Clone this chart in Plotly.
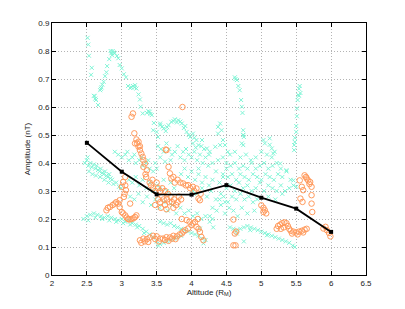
import plotly.graph_objects as go

# ---- black mean line ----
mean_x = [2.5, 3.0, 3.5, 4.0, 4.5, 5.0, 5.5, 6.0]
mean_y = [0.472, 0.369, 0.288, 0.287, 0.321, 0.276, 0.237, 0.154]

# ---- cyan (x markers) tracks ----
cyan_upper = [
    (2.51,0.847),(2.52,0.823),(2.53,0.783),(2.57,0.740),(2.56,0.715),(2.61,0.639),(2.63,0.625),
    (2.66,0.607),(2.69,0.660),(2.71,0.670),(2.74,0.690),(2.76,0.710),(2.78,0.724),(2.79,0.746),
    (2.82,0.771),(2.85,0.792),(2.87,0.800),(2.90,0.792),(2.93,0.782),(2.95,0.774),(2.97,0.750),
    (3.00,0.738),(3.03,0.717),(3.06,0.706),(3.09,0.675),(3.14,0.670),(3.19,0.678),(3.21,0.666),
    (3.24,0.645),(3.26,0.627),(3.27,0.601),(3.30,0.577),(3.36,0.579),(3.40,0.583),(3.43,0.571),
    (3.46,0.543),(3.50,0.511),(3.52,0.493),(2.84,0.800),(2.88,0.795),(2.86,0.785),(3.18,0.670),
    (3.16,0.675),(3.12,0.668),(3.38,0.585),(3.41,0.575),(2.60,0.640),(2.62,0.630),(2.72,0.680),
    (2.70,0.665),(3.45,0.517),(3.55,0.535),
]
cyan_branch = [
    (3.55,0.541),(3.60,0.523),(3.63,0.514),(3.67,0.535),(3.71,0.547),(3.76,0.556),(3.81,0.553),
    (3.86,0.541),(3.91,0.532),(3.93,0.511),(3.98,0.493),(4.02,0.505),(4.07,0.482),(4.10,0.464),
    (3.58,0.530),(3.65,0.528),(3.74,0.550),(3.79,0.545),(3.84,0.548),(3.89,0.525),(3.96,0.500),
    (4.04,0.490),
]
cyan_spikes = [
    (4.15,0.482),(4.22,0.452),(4.26,0.440),(4.34,0.458),(4.41,0.464),(4.41,0.541),(4.38,0.529),
    (4.43,0.517),(4.38,0.505),(4.45,0.482),(4.48,0.464),(4.52,0.440),(4.62,0.706),(4.63,0.700),
    (4.65,0.696),(4.67,0.675),(4.69,0.660),(4.71,0.625),(4.72,0.601),(4.73,0.579),(4.74,0.517),
    (4.75,0.493),(4.74,0.464),(5.03,0.482),(5.12,0.488),(5.05,0.470),(5.12,0.465),(5.15,0.452),
    (5.19,0.440),(5.55,0.675),(5.54,0.665),(5.53,0.643),(5.52,0.625),(5.51,0.595),(5.51,0.567),
    (5.50,0.532),(5.50,0.511),(5.48,0.490),(5.47,0.464),(5.47,0.446),(5.56,0.650),(5.54,0.640),
    (5.48,0.475),(4.74,0.500),
]
cyan_left_mid = [
    (2.47,0.400),(2.50,0.410),(2.51,0.420),(2.52,0.390),(2.55,0.400),(2.57,0.385),(2.60,0.395),
    (2.62,0.380),(2.64,0.390),(2.66,0.375),(2.68,0.370),(2.70,0.380),(2.72,0.365),(2.74,0.360),
    (2.76,0.370),(2.78,0.355),(2.80,0.350),(2.82,0.360),(2.84,0.345),(2.86,0.340),(2.53,0.370),
    (2.58,0.360),(2.63,0.355),(2.69,0.350),(2.75,0.340),(2.81,0.330),(2.88,0.325),(2.92,0.330),
    (2.96,0.315),(2.99,0.310),
]
cyan_above = [
    (2.90,0.440),(2.95,0.430),(3.00,0.420),(3.05,0.430),(3.10,0.410),(3.15,0.420),(3.20,0.400),
    (3.25,0.410),(3.30,0.390),(3.35,0.400),(3.40,0.380),(3.45,0.370),(3.50,0.380),(3.08,0.440),
    (3.18,0.430),(3.28,0.420),(3.38,0.410),(3.48,0.400),
]
cyan_upper_mid = [
    (3.52,0.460),(3.56,0.450),(3.60,0.440),(3.64,0.470),(3.68,0.450),(3.72,0.430),(3.76,0.440),
    (3.80,0.460),(3.84,0.420),(3.88,0.440),(3.92,0.450),(3.96,0.430),(4.00,0.420),(4.04,0.440),
    (4.08,0.410),(4.12,0.430),(4.16,0.400),(4.20,0.420),(4.24,0.390),(3.70,0.410),(3.90,0.410),
    (4.10,0.380),(3.55,0.420),(3.62,0.405),(4.02,0.470),(4.06,0.455),(4.14,0.460),
]
cyan_center_left = [
    (3.10,0.340),(3.15,0.330),(3.20,0.350),(3.25,0.320),(3.30,0.340),(3.35,0.310),(3.40,0.330),
    (3.45,0.300),(3.50,0.320),(3.55,0.310),(3.60,0.340),(3.65,0.300),(3.70,0.330),(3.75,0.310),
    (3.12,0.280),(3.18,0.270),(3.24,0.290),(3.30,0.260),(3.36,0.280),(3.42,0.250),(3.48,0.270),
    (3.54,0.240),(3.60,0.260),(3.66,0.230),(3.72,0.250),(3.78,0.220),(3.84,0.240),(3.90,0.220),
    (3.96,0.230),(4.02,0.210),(4.08,0.220),(4.14,0.200),(4.20,0.210),(4.26,0.190),(4.30,0.200),
]
cyan_center = [
    (3.85,0.360),(3.90,0.380),(3.95,0.350),(4.00,0.370),(4.05,0.340),(4.10,0.360),(4.15,0.330),
    (4.20,0.350),(4.25,0.320),(4.30,0.340),(4.35,0.370),(4.40,0.330),(4.45,0.350),(4.50,0.380),
    (4.02,0.300),(4.08,0.290),(4.15,0.310),(4.22,0.280),(4.28,0.300),(4.35,0.270),(4.42,0.290),
    (4.48,0.260),(4.30,0.400),(4.38,0.410),(4.45,0.420),(4.25,0.430),(4.18,0.450),
]
cyan_dense = [
    (4.55,0.430),(4.62,0.440),(4.70,0.420),(4.78,0.430),(4.85,0.410),(4.92,0.420),(5.00,0.440),
    (5.08,0.430),(5.15,0.420),
    (4.50,0.400),(4.56,0.390),(4.62,0.400),(4.68,0.380),(4.74,0.390),(4.80,0.380),(4.86,0.400),
    (4.92,0.380),(4.98,0.390),(5.04,0.400),(5.10,0.380),(5.16,0.390),(5.22,0.400),(5.28,0.380),
    (4.45,0.360),(4.52,0.350),(4.58,0.360),(4.64,0.340),(4.70,0.360),(4.76,0.350),(4.82,0.340),
    (4.88,0.360),(4.94,0.350),(5.00,0.340),(5.06,0.360),(5.12,0.350),(5.18,0.340),(5.24,0.360),
    (5.30,0.350),(5.36,0.370),(5.42,0.340),
    (4.50,0.310),(4.56,0.320),(4.62,0.300),(4.68,0.330),(4.74,0.310),(4.80,0.320),(4.86,0.300),
    (4.92,0.310),(4.98,0.330),(5.04,0.300),(5.10,0.320),(5.16,0.310),(5.22,0.300),(5.28,0.320),
    (5.34,0.300),(5.40,0.310),(5.46,0.320),
    (4.40,0.270),(4.46,0.280),(4.52,0.260),(4.58,0.280),(4.64,0.270),(4.70,0.290),(4.76,0.270),
    (4.82,0.280),(4.88,0.260),(4.94,0.270),(5.10,0.280),(5.20,0.270),(5.30,0.290),
    (4.30,0.240),(4.36,0.230),(4.42,0.250),(4.48,0.220),(4.54,0.240),(4.60,0.230),(4.66,0.210),
    (4.72,0.240),(4.80,0.220),(4.90,0.230),
    (5.17,0.434),(5.27,0.398),(5.36,0.374),(5.46,0.338),(5.50,0.315),(4.74,0.500),(4.72,0.470),
]
cyan_low_left = [
    (2.45,0.200),(2.50,0.210),(2.55,0.215),(2.60,0.220),(2.65,0.215),(2.70,0.210),(2.75,0.205),
    (2.80,0.210),(2.85,0.205),(2.90,0.200),(2.95,0.195),(3.00,0.200),(3.05,0.190),(3.10,0.195),
    (3.15,0.185),(3.20,0.180),(3.25,0.175),(3.30,0.165),(3.35,0.155),(3.40,0.145),(3.45,0.135),
    (3.50,0.120),(3.52,0.105),(3.55,0.110),(3.60,0.115),(3.65,0.120),(3.70,0.125),(3.75,0.130),
    (3.80,0.135),(3.85,0.140),(2.52,0.195),(2.62,0.205),(2.72,0.200),(2.82,0.195),(2.92,0.190),
    (3.02,0.185),(3.12,0.180),(3.22,0.170),(3.32,0.150),
]
cyan_low_mid = [
    (3.55,0.190),(3.60,0.185),(3.65,0.180),(3.70,0.185),(3.75,0.175),(3.80,0.170),(3.85,0.165),
    (3.90,0.160),(3.95,0.155),(4.00,0.150),(4.05,0.145),(4.10,0.140),(4.15,0.130),(4.20,0.125),
    (4.12,0.166),(4.17,0.113),(4.26,0.210),(4.31,0.170),
]
cyan_low_right = [
    (4.55,0.170),(4.60,0.165),(4.65,0.160),(4.70,0.165),(4.75,0.170),(4.80,0.175),(4.85,0.170),
    (4.90,0.165),(4.95,0.160),(5.00,0.155),(5.05,0.150),(5.10,0.145),(5.15,0.140),(5.20,0.135),
    (5.25,0.130),(5.30,0.125),(5.35,0.120),(5.40,0.115),(5.45,0.105),(5.48,0.100),(4.75,0.120),
    (5.08,0.142),(4.84,0.160),(4.65,0.148),
]

# ---- orange (open circles) tracks ----
orange_top = [
    (3.14,0.565),(3.16,0.577),(3.87,0.600),(3.18,0.506),(3.21,0.484),(3.19,0.470),(3.24,0.476),
    (3.26,0.460),(3.63,0.448),(3.22,0.470),(3.24,0.458),(3.26,0.446),(3.28,0.434),(3.30,0.422),
    (3.31,0.410),(3.33,0.398),(3.31,0.386),(3.36,0.374),(3.64,0.446),(3.67,0.386),(3.69,0.363),
    (3.71,0.345),(3.34,0.360),(3.35,0.350),
]
orange_left = [
    (3.05,0.350),(3.02,0.332),(3.00,0.315),(3.06,0.303),(3.03,0.279),(2.97,0.267),(3.12,0.255),
    (2.78,0.231),(2.83,0.243),(2.90,0.255),(2.95,0.255),(2.97,0.243),(3.00,0.225),(3.05,0.213),
    (3.09,0.200),(3.14,0.200),(3.19,0.207),(3.21,0.213),(2.80,0.240),(2.87,0.250),(2.92,0.260),
    (3.02,0.220),(3.07,0.205),(3.11,0.198),(3.17,0.203),(3.05,0.320),(3.04,0.290),
]
orange_mid = [
    (3.40,0.330),(3.42,0.320),(3.45,0.310),(3.48,0.300),(3.44,0.340),(3.50,0.330),(3.52,0.310),
    (3.55,0.300),(3.58,0.280),(3.52,0.270),(3.55,0.260),(3.60,0.270),(3.62,0.250),(3.65,0.270),
    (3.68,0.260),(3.70,0.280),(3.72,0.260),(3.75,0.270),(3.78,0.250),(3.80,0.260),(3.82,0.280),
    (3.85,0.270),(3.58,0.310),(3.62,0.300),(3.66,0.290),(3.48,0.250),(3.56,0.240),(3.64,0.235),
    (3.74,0.240),(3.76,0.330),(3.88,0.327),(3.95,0.321),(4.02,0.315),(4.07,0.309),(4.10,0.273),
    (4.12,0.267),(3.80,0.340),(3.84,0.330),(3.92,0.320),(3.98,0.310),(4.04,0.300),(3.74,0.350),
    (3.86,0.200),(3.93,0.196),(4.13,0.290),
]
orange_low = [
    (3.26,0.124),(3.31,0.130),(3.36,0.128),(3.40,0.134),(3.45,0.140),(3.50,0.138),(3.55,0.130),
    (3.59,0.130),(3.64,0.135),(3.69,0.134),(3.74,0.140),(3.79,0.138),(3.83,0.145),(3.86,0.148),
    (3.91,0.160),(3.95,0.166),(4.00,0.178),(4.05,0.189),(4.02,0.184),(4.07,0.172),(4.12,0.154),
    (4.14,0.136),(4.17,0.124),(3.28,0.115),(3.33,0.120),(3.38,0.118),(3.48,0.128),(3.53,0.120),
    (3.62,0.125),(3.67,0.122),(3.72,0.130),(3.77,0.128),(3.88,0.155),(3.97,0.190),(4.09,0.200),
    (4.10,0.165),
]
orange_right = [
    (4.60,0.198),(4.62,0.148),(4.64,0.155),(4.60,0.106),(4.63,0.106),(5.00,0.249),(5.03,0.240),
    (5.05,0.231),(5.03,0.225),(5.07,0.220),(5.62,0.356),(5.65,0.345),(5.67,0.338),(5.70,0.332),
    (5.55,0.338),(5.58,0.315),(5.60,0.303),(5.56,0.273),(5.59,0.261),(5.72,0.315),(5.72,0.285),
    (5.72,0.255),(5.73,0.225),(5.64,0.350),(5.69,0.325),
]
orange_bottom_right = [
    (5.22,0.165),(5.24,0.175),(5.27,0.180),(5.30,0.185),(5.33,0.188),(5.36,0.185),(5.38,0.175),
    (5.40,0.165),(5.42,0.158),(5.46,0.155),(5.50,0.152),(5.54,0.155),(5.58,0.158),(5.62,0.162),
    (5.65,0.165),(5.28,0.165),(5.32,0.170),(5.44,0.148),(5.52,0.145),(5.60,0.152),(5.89,0.166),
    (5.94,0.160),(5.97,0.150),(5.99,0.138),(5.92,0.172),
]

x_ticks = [2, 2.5, 3, 3.5, 4, 4.5, 5, 5.5, 6, 6.5]
y_ticks = [0, 0.1, 0.2, 0.3, 0.4, 0.5, 0.6, 0.7, 0.8, 0.9]

cyan_all = (cyan_upper + cyan_branch + cyan_spikes + cyan_left_mid + cyan_above +
            cyan_upper_mid + cyan_center_left + cyan_center + cyan_dense +
            cyan_low_left + cyan_low_mid + cyan_low_right)
orange_all = (orange_top + orange_left + orange_mid + orange_low + orange_right +
              orange_bottom_right)

CYAN = "#7ff5d6"
ORANGE = "#ff9a5c"

fig = go.Figure()
fig.add_trace(go.Scatter(
    x=[p[0] for p in cyan_all], y=[p[1] for p in cyan_all], mode="markers",
    marker=dict(symbol="x-thin-open", size=4, color=CYAN, line=dict(color=CYAN, width=1)),
    showlegend=False, hoverinfo="skip"))
fig.add_trace(go.Scatter(
    x=[p[0] for p in orange_all], y=[p[1] for p in orange_all], mode="markers",
    marker=dict(symbol="circle-open", size=5.5, color=ORANGE, line=dict(color=ORANGE, width=1)),
    showlegend=False, hoverinfo="skip"))
fig.add_trace(go.Scatter(
    x=mean_x, y=mean_y, mode="lines+markers",
    line=dict(color="black", width=1.8),
    marker=dict(symbol="square", size=4, color="black"),
    showlegend=False))

axis_common = dict(
    showline=True, linecolor="black", linewidth=1, mirror="ticks",
    ticks="inside", ticklen=4, tickcolor="black",
    showgrid=True, gridcolor="#b4b4b4", griddash="1px,2px", gridwidth=1,
    zeroline=False, tickfont=dict(size=8, color="#222"), automargin=False,
)
fig.update_xaxes(range=[2, 6.5], tickvals=x_ticks, ticktext=[f"{v:g}" for v in x_ticks],
                 title=dict(text="Altitude (R<sub>M</sub>)", font=dict(size=8, color="#222"), standoff=2),
                 **axis_common)
fig.update_yaxes(range=[0, 0.9], tickvals=y_ticks, ticktext=[f"{v:g}" for v in y_ticks],
                 title=dict(text="Amplitude (nT)", font=dict(size=8, color="#222"), standoff=6),
                 **axis_common)
# page body has an 8px default margin, so the figure is sized to fit in the window
fig.update_layout(
    width=397, height=301,
    margin=dict(l=44, r=39, t=15, b=34),
    paper_bgcolor="white", plot_bgcolor="white",
    font=dict(family="Liberation Sans, Arial, sans-serif", size=8, color="#222"),
)
fig.write_html("out.html")
